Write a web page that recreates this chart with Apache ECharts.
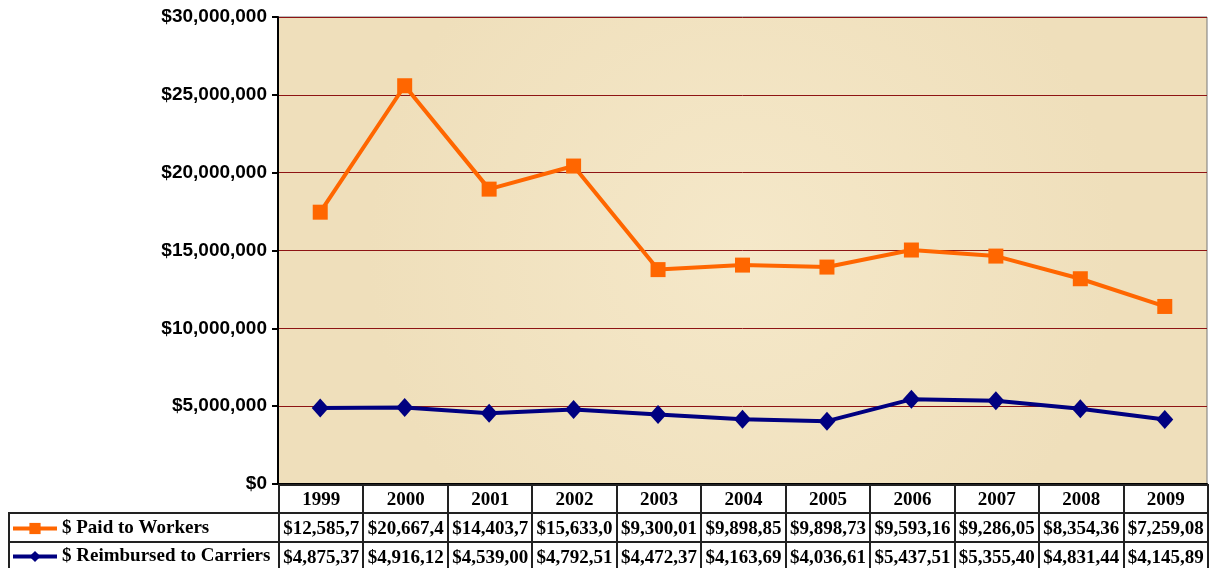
<!DOCTYPE html>
<html>
<head>
<meta charset="utf-8">
<script src="https://cdn.jsdelivr.net/npm/echarts@6/dist/echarts.min.js"></script>
<style>
  html, body { margin: 0; padding: 0; background: #fff; }
  #wrap { position: relative; width: 1211px; height: 568px; overflow: hidden; }
  #chart { position: absolute; left: 0; top: 0; width: 1211px; height: 568px; }
  #tbl {
    position: absolute; left: 8px; top: 484px;
    border-collapse: collapse; table-layout: fixed;
    font: bold 19px "Liberation Serif", "Times New Roman", serif;
    color: #000;
  }
  #tbl td { border: 2px solid #222; padding: 0; text-align: center; white-space: nowrap; overflow: hidden; }
  #tbl tr.head td { height: 26px; }
  #tbl tr.row td { height: 27px; }
  #tbl td.blank { border: none; }
</style>
</head>
<body>
<div id="wrap">
  <div id="chart"></div>
  <table id="tbl"></table>
</div>
<script>
const years = ["1999", "2000", "2001", "2002", "2003", "2004", "2005", "2006", "2007", "2008", "2009"];
const paidToWorkers = [12585700, 20667400, 14403700, 15633000, 9300010, 9898850, 9898730, 9593160, 9286050, 8354360, 7259080];
const reimbursedToCarriers = [4875370, 4916120, 4539000, 4792510, 4472370, 4163690, 4036610, 5437510, 5355400, 4831440, 4145890];
const yTicks = [0, 5000000, 10000000, 15000000, 20000000, 25000000, 30000000];

const nameWorkers = "$ Paid to Workers";
const nameCarriers = "$ Reimbursed to Carriers";

function money(v) {
  return "$" + v.toLocaleString("en-US");
}

// data table below the plot (cells too narrow, so text is cut like the original)
function buildTable() {
  var colW = (1207 - 278) / years.length;
  var html = '<colgroup><col style="width:270px">';
  years.forEach(function () { html += '<col style="width:' + colW + 'px">'; });
  html += "</colgroup>";
  html += '<tr class="head"><td class="blank"></td>';
  years.forEach(function (y) { html += "<td>" + y + "</td>"; });
  html += "</tr>";
  html += '<tr class="row"><td></td>';
  paidToWorkers.forEach(function (v) { html += "<td>" + money(v).slice(0, 9) + "</td>"; });
  html += "</tr>";
  html += '<tr class="row"><td></td>';
  reimbursedToCarriers.forEach(function (v) { html += "<td>" + money(v).slice(0, 9) + "</td>"; });
  html += "</tr>";
  document.getElementById("tbl").innerHTML = html;
  document.getElementById("tbl").style.width = (270 + colW * years.length) + "px";
}
buildTable();

var legendText = {
  fontFamily: "Liberation Serif",
  fontWeight: "bold",
  fontSize: 19,
  color: "#000",
};

var myChart = echarts.init(document.getElementById("chart"));
var option = {
  animation: false,
  backgroundColor: "#fff",
  legend: [
    {
      left: 6,
      top: 514,
      itemWidth: 44,
      itemHeight: 14,
      itemGap: 4,
      data: [nameWorkers],
      lineStyle: { width: 4 },
      textStyle: legendText,
    },
    {
      left: 6,
      top: 542,
      itemWidth: 44,
      itemHeight: 14,
      data: [nameCarriers],
      lineStyle: { width: 4 },
      textStyle: legendText,
    },
  ],
  grid: {
    left: 278,
    right: 4,
    top: 17,
    bottom: 84,
    show: true,
    borderColor: "#777",
    borderWidth: 1,
    backgroundColor: {
      type: "radial",
      x: 0.5, y: 0.5, r: 0.8,
      colorStops: [
        { offset: 0, color: "#f5e8c9" },
        { offset: 1, color: "#efdfbb" },
      ],
    },
  },
  xAxis: {
    type: "category",
    data: years,
    boundaryGap: true,
    axisLine: { show: true, lineStyle: { color: "#000", width: 2 } },
    axisTick: { show: false },
    axisLabel: { show: false },
  },
  yAxis: {
    type: "value",
    min: yTicks[0],
    max: yTicks[yTicks.length - 1],
    interval: yTicks[1] - yTicks[0],
    axisLine: { show: true, lineStyle: { color: "#000", width: 2 } },
    axisTick: { show: true, length: 6, lineStyle: { color: "#000", width: 2 } },
    axisLabel: {
      formatter: function (v) { return money(v); },
      fontFamily: "Liberation Sans",
      fontWeight: "bold",
      fontSize: 19,
      color: "#000",
      margin: 11,
    },
    splitLine: {
      show: true,
      lineStyle: { color: "#8e1414", width: 1 },
    },
  },
  series: [
    {
      name: nameCarriers,
      type: "line",
      stack: "total",
      data: reimbursedToCarriers,
      symbol: "diamond",
      symbolSize: [17, 19],
      lineStyle: { color: "#000080", width: 4 },
      itemStyle: { color: "#000080" },
      z: 3,
    },
    {
      name: nameWorkers,
      type: "line",
      stack: "total",
      data: paidToWorkers,
      symbol: "rect",
      symbolSize: 15,
      lineStyle: { color: "#ff6600", width: 4 },
      itemStyle: { color: "#ff6600" },
      z: 4,
    },
  ],
};
option && myChart.setOption(option);
</script>
</body>
</html>
